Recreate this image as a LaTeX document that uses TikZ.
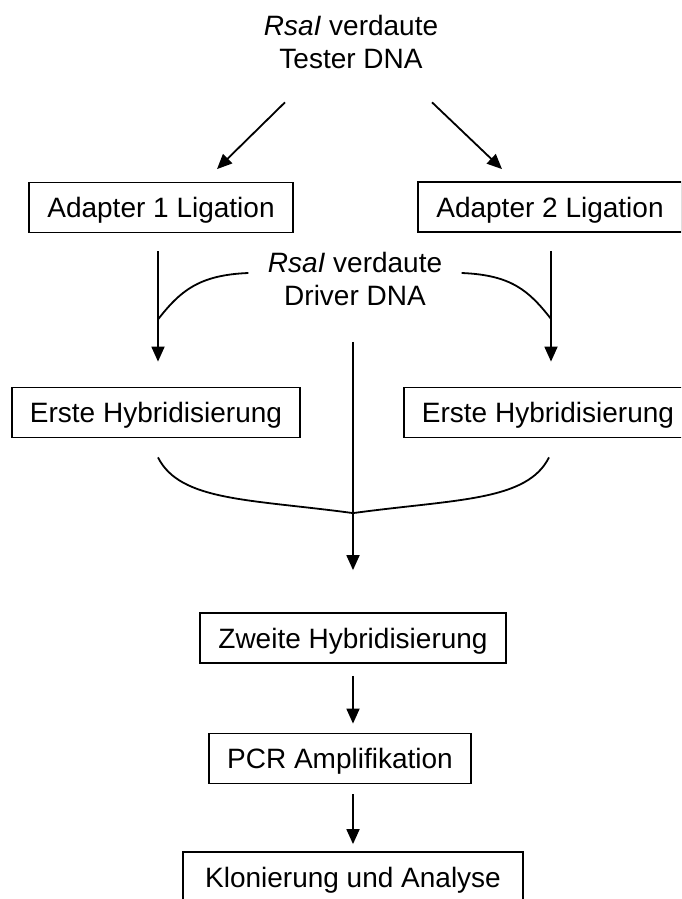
\documentclass[tikz,border=0pt]{standalone}
\usepackage{fontspec}
\setmainfont{Liberation Sans}
\usetikzlibrary{arrows.meta,calc}

\begin{document}
\begin{tikzpicture}[
    x=1pt, y=-1pt,
    box/.style  = {draw, line width=1.8pt, minimum height=50pt, inner xsep=18pt,
                   text height=20pt, text depth=0pt,
                   font=\fontsize{28}{33}\selectfont},
    lbl/.style  = {align=center, font=\fontsize{28}{33}\selectfont},
    arr/.style  = {line width=1.8pt, -{Triangle[width=13pt,length=15pt]}},
    conn/.style = {line width=1.8pt},
]
\useasboundingbox (0,0) rectangle (681,899);
\clip (0,0) rectangle (681,899);

% ============================================================
%  TESTER DNA  and the two adapter ligations
% ============================================================
\node[lbl] (tester) at (351,41.5) {\textit{RsaI} verdaute\\Tester DNA};
\node[box] (ad1) at (161,207.5) {Adapter 1 Ligation};
\node[box] (ad2) at (550,207)   {Adapter 2 Ligation};

\draw[arr] ($(tester.south)+(-66,30.5)$) -- ($(ad1.north)+(56,-12.5)$);
\draw[arr] ($(tester.south)+(81,30.5)$)  -- ($(ad2.north)+(-48,-12)$);

% ============================================================
%  DRIVER DNA  joins both branches
% ============================================================
\node[lbl] (driver) at (355,278.5) {\textit{RsaI} verdaute\\Driver DNA};

\node[box] (hyb1) at (156,412.5) {Erste Hybridisierung};
\node[box] (hyb2) at (548,412.5) {Erste Hybridisierung};

\draw[arr] ($(ad1.south)+(-3,18)$) -- ($(ad1.south |- hyb1.north)+(-3,-25)$);
\draw[arr] ($(ad2.south)+(1,18)$)  -- ($(ad2.south |- hyb2.north)+(1,-25)$);

\coordinate (jL) at ($(ad1.south)+(-3,86)$);
\coordinate (jR) at ($(ad2.south)+(1,86)$);
\draw[conn] ($(driver.west)+(-16,-5.5)$) .. controls +(-50,2) and +(22,-28) .. (jL);
\draw[conn] ($(driver.east)+(16,-5.5)$)  .. controls +(50,2) and +(-22,-28) .. (jR);

% ============================================================
%  SECOND HYBRIDISATION, PCR, CLONING
% ============================================================
\node[box] (hyb3) at (353,638)   {Zweite Hybridisierung};
\node[box, minimum width=256pt] (pcr) at (340,758.5) {PCR Amplifikation};
\node[box, inner xsep=22pt] (klon) at (353,877) {Klonierung und Analyse};

\coordinate (top)   at ($(driver.south)+(-2,33)$);
\coordinate (merge) at ($(top |- hyb3.north)+(0,-99)$);

\draw[arr] (top) -- ($(top |- hyb3.north)+(0,-42)$);
\draw[conn] ($(hyb1.south)+(2,19)$) .. controls +(22,44) and +(-103,-14) .. (merge);
\draw[conn] ($(hyb2.south)+(1,19)$) .. controls +(-22,44) and +(103,-14) .. (merge);

\draw[arr] ($(top |- hyb3.south)+(0,12)$) -- ($(top |- pcr.north)+(0,-9)$);
\draw[arr] ($(top |- pcr.south)+(0,10)$)  -- ($(top |- klon.north)+(0,-7)$);

\end{tikzpicture}
\end{document}
